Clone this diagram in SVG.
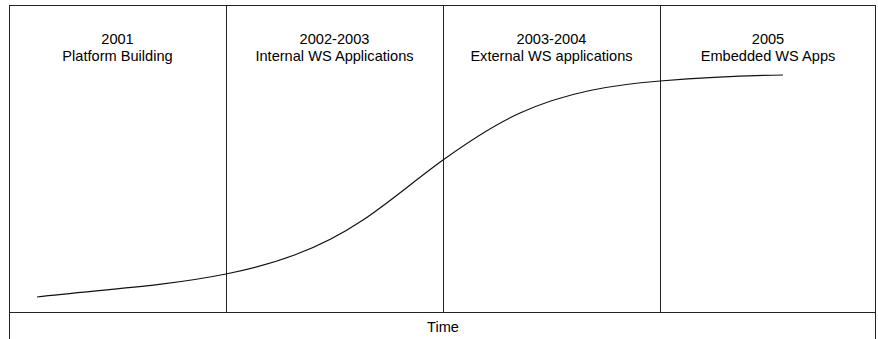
<svg xmlns="http://www.w3.org/2000/svg" width="878" height="339" viewBox="0 0 878 339">
  <style>
    .frame { fill: none; stroke: #222; stroke-width: 1; }
    .lbl { font-family: "Liberation Sans", Arial, sans-serif; font-size: 14.6px; fill: #000; text-anchor: middle; }
    .curve { fill: none; stroke: #111; stroke-width: 1.2; }
  </style>
  <rect x="0" y="0" width="878" height="339" fill="#fff"/>
  <g id="frame">
    <rect class="frame" x="9.5" y="5.5" width="866" height="345"/>
  </g>
  <g id="phase-2001">
    <text class="lbl" x="117.5" y="43.5">2001</text>
    <text class="lbl" x="117.5" y="61">Platform Building</text>
  </g>
  <g id="phase-2002-2003">
    <line class="frame" x1="226.5" y1="5.5" x2="226.5" y2="312.5"/>
    <text class="lbl" x="334.5" y="43.5">2002-2003</text>
    <text class="lbl" x="334.5" y="61">Internal WS Applications</text>
  </g>
  <g id="phase-2003-2004">
    <line class="frame" x1="443.5" y1="5.5" x2="443.5" y2="312.5"/>
    <text class="lbl" x="551.5" y="43.5">2003-2004</text>
    <text class="lbl" x="551.5" y="61">External WS applications</text>
  </g>
  <g id="phase-2005">
    <line class="frame" x1="660.5" y1="5.5" x2="660.5" y2="312.5"/>
    <text class="lbl" x="768" y="43.5">2005</text>
    <text class="lbl" x="768" y="61">Embedded WS Apps</text>
  </g>
  <g id="time-axis">
    <line class="frame" x1="9.5" y1="312.5" x2="875.5" y2="312.5"/>
    <text class="lbl" x="443" y="332">Time</text>
  </g>
  <g id="connectors">
    <path class="curve" d="M37,297 C100,289.6 163,286.6 226,274 C271.7,264.9 317.3,250.6 363,220 C389.7,202.1 416.3,179.2 443,160 C468.7,141.5 494.3,124.6 520,113 C566.7,92 613.3,84.7 660,81 C701,77.7 742,75.4 783,75"/>
  </g>
</svg>
